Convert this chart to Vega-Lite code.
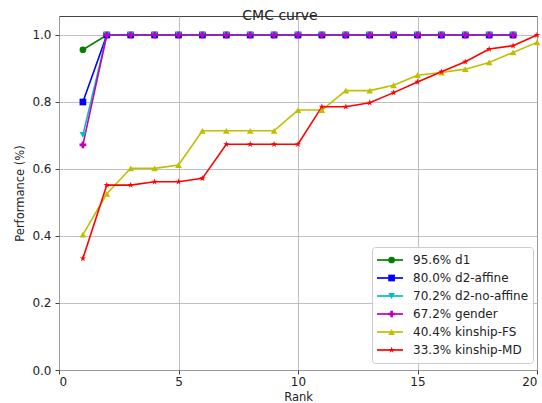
{
  "$schema": "https://vega.github.io/schema/vega-lite/v6.json",
  "width": 478,
  "height": 354,
  "autosize": "none",
  "padding": {"left": 59, "top": 16, "right": 5, "bottom": 33},
  "title": {"text": "CMC curve", "fontSize": 14, "fontWeight": "normal", "font": "DejaVu Sans", "color": "#222", "baseline": "alphabetic", "offset": -18, "dx": -18},
  "config": {
    "font": "DejaVu Sans",
    "view": {"stroke": "#444", "strokeWidth": 1},
    "axis": {"grid": true, "gridColor": "#b0b0b0", "gridWidth": 0.8, "domain": false, "tickColor": "#444", "tickSize": 4, "labelFontSize": 12, "labelColor": "#222", "titleFontSize": 11.5, "titleFontWeight": "normal", "titleColor": "#222"}
  },
  "data": {"values": [
    {"series": "95.6% d1", "rank": 1, "perf": 0.956},
    {"series": "95.6% d1", "rank": 2, "perf": 1.0},
    {"series": "95.6% d1", "rank": 3, "perf": 1.0},
    {"series": "95.6% d1", "rank": 4, "perf": 1.0},
    {"series": "95.6% d1", "rank": 5, "perf": 1.0},
    {"series": "95.6% d1", "rank": 6, "perf": 1.0},
    {"series": "95.6% d1", "rank": 7, "perf": 1.0},
    {"series": "95.6% d1", "rank": 8, "perf": 1.0},
    {"series": "95.6% d1", "rank": 9, "perf": 1.0},
    {"series": "95.6% d1", "rank": 10, "perf": 1.0},
    {"series": "95.6% d1", "rank": 11, "perf": 1.0},
    {"series": "95.6% d1", "rank": 12, "perf": 1.0},
    {"series": "95.6% d1", "rank": 13, "perf": 1.0},
    {"series": "95.6% d1", "rank": 14, "perf": 1.0},
    {"series": "95.6% d1", "rank": 15, "perf": 1.0},
    {"series": "95.6% d1", "rank": 16, "perf": 1.0},
    {"series": "95.6% d1", "rank": 17, "perf": 1.0},
    {"series": "95.6% d1", "rank": 18, "perf": 1.0},
    {"series": "95.6% d1", "rank": 19, "perf": 1.0},
    {"series": "80.0% d2-affine", "rank": 1, "perf": 0.8},
    {"series": "80.0% d2-affine", "rank": 2, "perf": 1.0},
    {"series": "80.0% d2-affine", "rank": 3, "perf": 1.0},
    {"series": "80.0% d2-affine", "rank": 4, "perf": 1.0},
    {"series": "80.0% d2-affine", "rank": 5, "perf": 1.0},
    {"series": "80.0% d2-affine", "rank": 6, "perf": 1.0},
    {"series": "80.0% d2-affine", "rank": 7, "perf": 1.0},
    {"series": "80.0% d2-affine", "rank": 8, "perf": 1.0},
    {"series": "80.0% d2-affine", "rank": 9, "perf": 1.0},
    {"series": "80.0% d2-affine", "rank": 10, "perf": 1.0},
    {"series": "80.0% d2-affine", "rank": 11, "perf": 1.0},
    {"series": "80.0% d2-affine", "rank": 12, "perf": 1.0},
    {"series": "80.0% d2-affine", "rank": 13, "perf": 1.0},
    {"series": "80.0% d2-affine", "rank": 14, "perf": 1.0},
    {"series": "80.0% d2-affine", "rank": 15, "perf": 1.0},
    {"series": "80.0% d2-affine", "rank": 16, "perf": 1.0},
    {"series": "80.0% d2-affine", "rank": 17, "perf": 1.0},
    {"series": "80.0% d2-affine", "rank": 18, "perf": 1.0},
    {"series": "80.0% d2-affine", "rank": 19, "perf": 1.0},
    {"series": "70.2% d2-no-affine", "rank": 1, "perf": 0.702},
    {"series": "70.2% d2-no-affine", "rank": 2, "perf": 1.0},
    {"series": "70.2% d2-no-affine", "rank": 3, "perf": 1.0},
    {"series": "70.2% d2-no-affine", "rank": 4, "perf": 1.0},
    {"series": "70.2% d2-no-affine", "rank": 5, "perf": 1.0},
    {"series": "70.2% d2-no-affine", "rank": 6, "perf": 1.0},
    {"series": "70.2% d2-no-affine", "rank": 7, "perf": 1.0},
    {"series": "70.2% d2-no-affine", "rank": 8, "perf": 1.0},
    {"series": "70.2% d2-no-affine", "rank": 9, "perf": 1.0},
    {"series": "70.2% d2-no-affine", "rank": 10, "perf": 1.0},
    {"series": "70.2% d2-no-affine", "rank": 11, "perf": 1.0},
    {"series": "70.2% d2-no-affine", "rank": 12, "perf": 1.0},
    {"series": "70.2% d2-no-affine", "rank": 13, "perf": 1.0},
    {"series": "70.2% d2-no-affine", "rank": 14, "perf": 1.0},
    {"series": "70.2% d2-no-affine", "rank": 15, "perf": 1.0},
    {"series": "70.2% d2-no-affine", "rank": 16, "perf": 1.0},
    {"series": "70.2% d2-no-affine", "rank": 17, "perf": 1.0},
    {"series": "70.2% d2-no-affine", "rank": 18, "perf": 1.0},
    {"series": "70.2% d2-no-affine", "rank": 19, "perf": 1.0},
    {"series": "67.2% gender", "rank": 1, "perf": 0.672},
    {"series": "67.2% gender", "rank": 2, "perf": 1.0},
    {"series": "67.2% gender", "rank": 3, "perf": 1.0},
    {"series": "67.2% gender", "rank": 4, "perf": 1.0},
    {"series": "67.2% gender", "rank": 5, "perf": 1.0},
    {"series": "67.2% gender", "rank": 6, "perf": 1.0},
    {"series": "67.2% gender", "rank": 7, "perf": 1.0},
    {"series": "67.2% gender", "rank": 8, "perf": 1.0},
    {"series": "67.2% gender", "rank": 9, "perf": 1.0},
    {"series": "67.2% gender", "rank": 10, "perf": 1.0},
    {"series": "67.2% gender", "rank": 11, "perf": 1.0},
    {"series": "67.2% gender", "rank": 12, "perf": 1.0},
    {"series": "67.2% gender", "rank": 13, "perf": 1.0},
    {"series": "67.2% gender", "rank": 14, "perf": 1.0},
    {"series": "67.2% gender", "rank": 15, "perf": 1.0},
    {"series": "67.2% gender", "rank": 16, "perf": 1.0},
    {"series": "67.2% gender", "rank": 17, "perf": 1.0},
    {"series": "67.2% gender", "rank": 18, "perf": 1.0},
    {"series": "67.2% gender", "rank": 19, "perf": 1.0},
    {"series": "40.4% kinship-FS", "rank": 1, "perf": 0.404},
    {"series": "40.4% kinship-FS", "rank": 2, "perf": 0.526},
    {"series": "40.4% kinship-FS", "rank": 3, "perf": 0.602},
    {"series": "40.4% kinship-FS", "rank": 4, "perf": 0.602},
    {"series": "40.4% kinship-FS", "rank": 5, "perf": 0.612},
    {"series": "40.4% kinship-FS", "rank": 6, "perf": 0.714},
    {"series": "40.4% kinship-FS", "rank": 7, "perf": 0.714},
    {"series": "40.4% kinship-FS", "rank": 8, "perf": 0.714},
    {"series": "40.4% kinship-FS", "rank": 9, "perf": 0.714},
    {"series": "40.4% kinship-FS", "rank": 10, "perf": 0.776},
    {"series": "40.4% kinship-FS", "rank": 11, "perf": 0.776},
    {"series": "40.4% kinship-FS", "rank": 12, "perf": 0.834},
    {"series": "40.4% kinship-FS", "rank": 13, "perf": 0.834},
    {"series": "40.4% kinship-FS", "rank": 14, "perf": 0.85},
    {"series": "40.4% kinship-FS", "rank": 15, "perf": 0.88},
    {"series": "40.4% kinship-FS", "rank": 16, "perf": 0.888},
    {"series": "40.4% kinship-FS", "rank": 17, "perf": 0.898},
    {"series": "40.4% kinship-FS", "rank": 18, "perf": 0.918},
    {"series": "40.4% kinship-FS", "rank": 19, "perf": 0.948},
    {"series": "40.4% kinship-FS", "rank": 20, "perf": 0.978},
    {"series": "33.3% kinship-MD", "rank": 1, "perf": 0.333},
    {"series": "33.3% kinship-MD", "rank": 2, "perf": 0.552},
    {"series": "33.3% kinship-MD", "rank": 3, "perf": 0.552},
    {"series": "33.3% kinship-MD", "rank": 4, "perf": 0.562},
    {"series": "33.3% kinship-MD", "rank": 5, "perf": 0.562},
    {"series": "33.3% kinship-MD", "rank": 6, "perf": 0.572},
    {"series": "33.3% kinship-MD", "rank": 7, "perf": 0.674},
    {"series": "33.3% kinship-MD", "rank": 8, "perf": 0.674},
    {"series": "33.3% kinship-MD", "rank": 9, "perf": 0.674},
    {"series": "33.3% kinship-MD", "rank": 10, "perf": 0.674},
    {"series": "33.3% kinship-MD", "rank": 11, "perf": 0.786},
    {"series": "33.3% kinship-MD", "rank": 12, "perf": 0.786},
    {"series": "33.3% kinship-MD", "rank": 13, "perf": 0.798},
    {"series": "33.3% kinship-MD", "rank": 14, "perf": 0.828},
    {"series": "33.3% kinship-MD", "rank": 15, "perf": 0.86},
    {"series": "33.3% kinship-MD", "rank": 16, "perf": 0.89},
    {"series": "33.3% kinship-MD", "rank": 17, "perf": 0.92},
    {"series": "33.3% kinship-MD", "rank": 18, "perf": 0.958},
    {"series": "33.3% kinship-MD", "rank": 19, "perf": 0.968},
    {"series": "33.3% kinship-MD", "rank": 20, "perf": 1.0}
  ]},
  "encoding": {
    "x": {"field": "rank", "type": "quantitative", "scale": {"domain": [0, 20], "nice": false, "zero": false}, "axis": {"values": [0, 5, 10, 15, 20], "title": "Rank", "titlePadding": 4, "labelPadding": 2}},
    "y": {"field": "perf", "type": "quantitative", "scale": {"domain": [0, 1.0567], "nice": false}, "axis": {"values": [0, 0.2, 0.4, 0.6, 0.8, 1.0], "format": ".1f", "title": "Performance (%)", "titlePadding": 6, "labelPadding": 4}}
  },
  "layer": [
    {
      "mark": {"type": "line", "strokeWidth": 1.6},
      "encoding": {
        "stroke": {"field": "series", "type": "nominal", "sort": "descending",
          "scale": {"range": ["#008000", "#0000ff", "#00bfbf", "#bf00bf", "#bfbf00", "#ff0000"]},
          "legend": {"orient": "none", "legendX": 313, "legendY": 231, "title": null, "symbolType": "stroke", "symbolSize": 676, "symbolStrokeWidth": 1.7, "clipHeight": 18, "rowPadding": 0, "padding": 4, "labelExpr": "''", "labelOffset": 0, "labelFontSize": 12, "zindex": 2}
        }
      }
    },
    {
      "mark": {"type": "point", "filled": true, "opacity": 1, "size": 45},
      "encoding": {
        "color": {"field": "series", "type": "nominal",
          "scale": {"domain": ["95.6% d1", "80.0% d2-affine", "70.2% d2-no-affine", "67.2% gender", "40.4% kinship-FS", "33.3% kinship-MD"], "range": ["#008000", "#0000ff", "#00bfbf", "#bf00bf", "#bfbf00", "#ff0000"]},
          "legend": {"orient": "none", "legendX": 313, "legendY": 231, "title": null, "symbolSize": 45, "symbolOffset": 9.6, "clipHeight": 18, "rowPadding": 0, "padding": 4, "labelOffset": 15.5, "labelFontSize": 12, "labelColor": "#222", "symbolOpacity": 1, "fillColor": "rgba(255,255,255,0.85)", "strokeColor": "#cccccc", "cornerRadius": 3, "zindex": 1}
        },
        "shape": {"field": "series", "type": "nominal",
          "scale": {"domain": ["95.6% d1", "80.0% d2-affine", "70.2% d2-no-affine", "67.2% gender", "40.4% kinship-FS", "33.3% kinship-MD"], "range": ["circle", "square", "triangle-down", "cross", "triangle-up", "M0,-1L0.223,-0.307L0.951,-0.309L0.361,0.117L0.588,0.809L0,0.38L-0.588,0.809L-0.361,0.117L-0.951,-0.309L-0.223,-0.307Z"]}
        }
      }
    }
  ]
}
